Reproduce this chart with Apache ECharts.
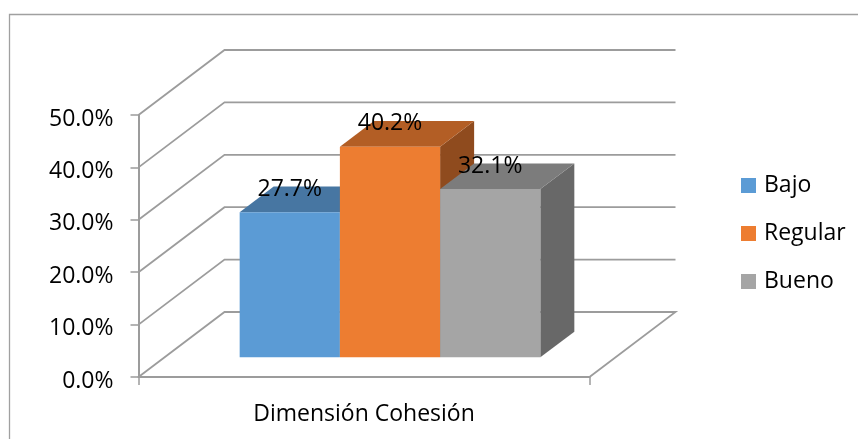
<!DOCTYPE html>
<html>
<head>
<meta charset="utf-8">
<style>html,body{margin:0;padding:0;background:#fff}#chart{width:858px;height:439px}</style>
<script src="https://cdn.jsdelivr.net/npm/echarts@6/dist/echarts.min.js"></script>
</head>
<body>
<div id="chart"></div>
<script>
const categories = ['Dimensión Cohesión'];
const seriesNames = ['Bajo', 'Regular', 'Bueno'];
const bajo = [27.7];
const regular = [40.2];
const bueno = [32.1];
const yTicks = [0, 10, 20, 30, 40, 50];

// Oblique projection of the chart box: how far the back wall sits from the front plane.
const WALL_DX = 86, WALL_DY = 65;
const BAR_DX = 34, BAR_DY = 25.6;
const BASE_DX = (WALL_DX - BAR_DX) / 2, BASE_DY = (WALL_DY - BAR_DY) / 2;
const FONT = 'Open Sans';
const LINE = '#9c9c9c';

const faces = [
  { front: '#5B9BD5', top: '#4776A2', side: '#3E6A93' },
  { front: '#ED7D31', top: '#B35E25', side: '#8F4B1E' },
  { front: '#A5A5A5', top: '#7C7C7C', side: '#686868' }
];

// Wall and floor lines for one axis tick.
function renderWall(params, api) {
  const v = api.value(0);
  const p = api.coord([0, v]);
  const band = api.size([1, 0])[0];
  const x0 = p[0] - band / 2, x1 = p[0] + band / 2, y = p[1];
  const pts = [[x0, y], [x0 + WALL_DX, y - WALL_DY], [x1 + WALL_DX, y - WALL_DY]];
  if (v === 0) pts.push([x1, y]);
  return {
    type: 'polyline',
    shape: { points: pts },
    style: { fill: null, stroke: LINE, lineWidth: 1.8 },
    silent: true
  };
}

// One 3D column: side, top and front faces plus its value label.
function renderColumn(idx) {
  return function (params, api) {
    const cat = api.value(0), val = api.value(1);
    const top = api.coord([cat, val]);
    const zero = api.coord([cat, 0]);
    const band = api.size([1, 0])[0];
    // Gap width of 50%: the columns fill two thirds of the band.
    const w = band / 1.5 / seriesNames.length;
    const left = top[0] - band / 2 + BASE_DX + band / 6 + idx * w;
    const right = left + w;
    const yt = top[1] - BASE_DY, yb = zero[1] - BASE_DY;
    const f = faces[idx];
    const poly = (points, fill) => ({ type: 'polygon', shape: { points }, style: { fill }, silent: true });
    return {
      type: 'group',
      children: [
        poly([[right, yt], [right + BAR_DX, yt - BAR_DY], [right + BAR_DX, yb - BAR_DY], [right, yb]], f.side),
        poly([[left, yt], [left + BAR_DX, yt - BAR_DY], [right + BAR_DX, yt - BAR_DY], [right, yt]], f.top),
        poly([[left, yt], [right, yt], [right, yb], [left, yb]], f.front),
        {
          type: 'text',
          z2: 100,
          silent: true,
          style: {
            x: (left + right) / 2, y: yt - 23,
            text: val.toFixed(1) + '%',
            fill: '#000', font: '23px "' + FONT + '"',
            align: 'center', verticalAlign: 'middle'
          }
        }
      ]
    };
  };
}

const columnSeries = [bajo, regular, bueno].map((values, i) => ({
  name: seriesNames[i],
  type: 'custom',
  coordinateSystem: 'cartesian2d',
  itemStyle: { color: faces[i].front },
  encode: { x: 0, y: 1 },
  data: values.map((v, c) => [c, v]),
  renderItem: renderColumn(i),
  clip: false,
  z: 3
}));

const chart = echarts.init(document.getElementById('chart'), null, { renderer: 'canvas' });
chart.setOption({
  animation: false,
  backgroundColor: '#fff',
  grid: { left: 138.5, right: 268.5, top: 115, bottom: 62 },
  xAxis: {
    type: 'category',
    data: categories,
    axisLine: { lineStyle: { color: LINE, width: 2 } },
    axisTick: { show: true, length: 8, lineStyle: { color: LINE, width: 1.5 } },
    axisLabel: { color: '#000', fontFamily: FONT, fontSize: 23, margin: 26 }
  },
  yAxis: {
    type: 'value',
    min: 0,
    max: 50,
    interval: 10,
    axisLine: { show: true, lineStyle: { color: LINE, width: 2 } },
    axisTick: { show: true, length: 8, lineStyle: { color: LINE, width: 1.5 } },
    axisLabel: {
      color: '#000', fontFamily: FONT, fontSize: 23, margin: 25,
      verticalAlign: 'top',
      lineHeight: 8,
      formatter: v => v.toFixed(1) + '%'
    },
    splitLine: { show: false }
  },
  legend: {
    data: seriesNames,
    orient: 'vertical',
    left: 741,
    top: 174,
    padding: 0,
    icon: 'rect',
    itemWidth: 15,
    itemHeight: 15,
    itemGap: 25,
    textStyle: { color: '#000', fontFamily: FONT, fontSize: 23, padding: [4, 0, 0, 3] }
  },
  graphic: [{
    type: 'polyline',
    silent: true,
    shape: { points: [[9.5, 439], [9.5, 14.5], [858, 14.5]] },
    style: { fill: null, stroke: '#a0a0a0', lineWidth: 1.3 }
  }],
  series: [{
    name: 'wall',
    type: 'custom',
    coordinateSystem: 'cartesian2d',
    encode: { y: 0 },
    data: yTicks.map(t => [t]),
    renderItem: renderWall,
    clip: false,
    silent: true,
    z: 1
  }].concat(columnSeries)
});
</script>
</body>
</html>
